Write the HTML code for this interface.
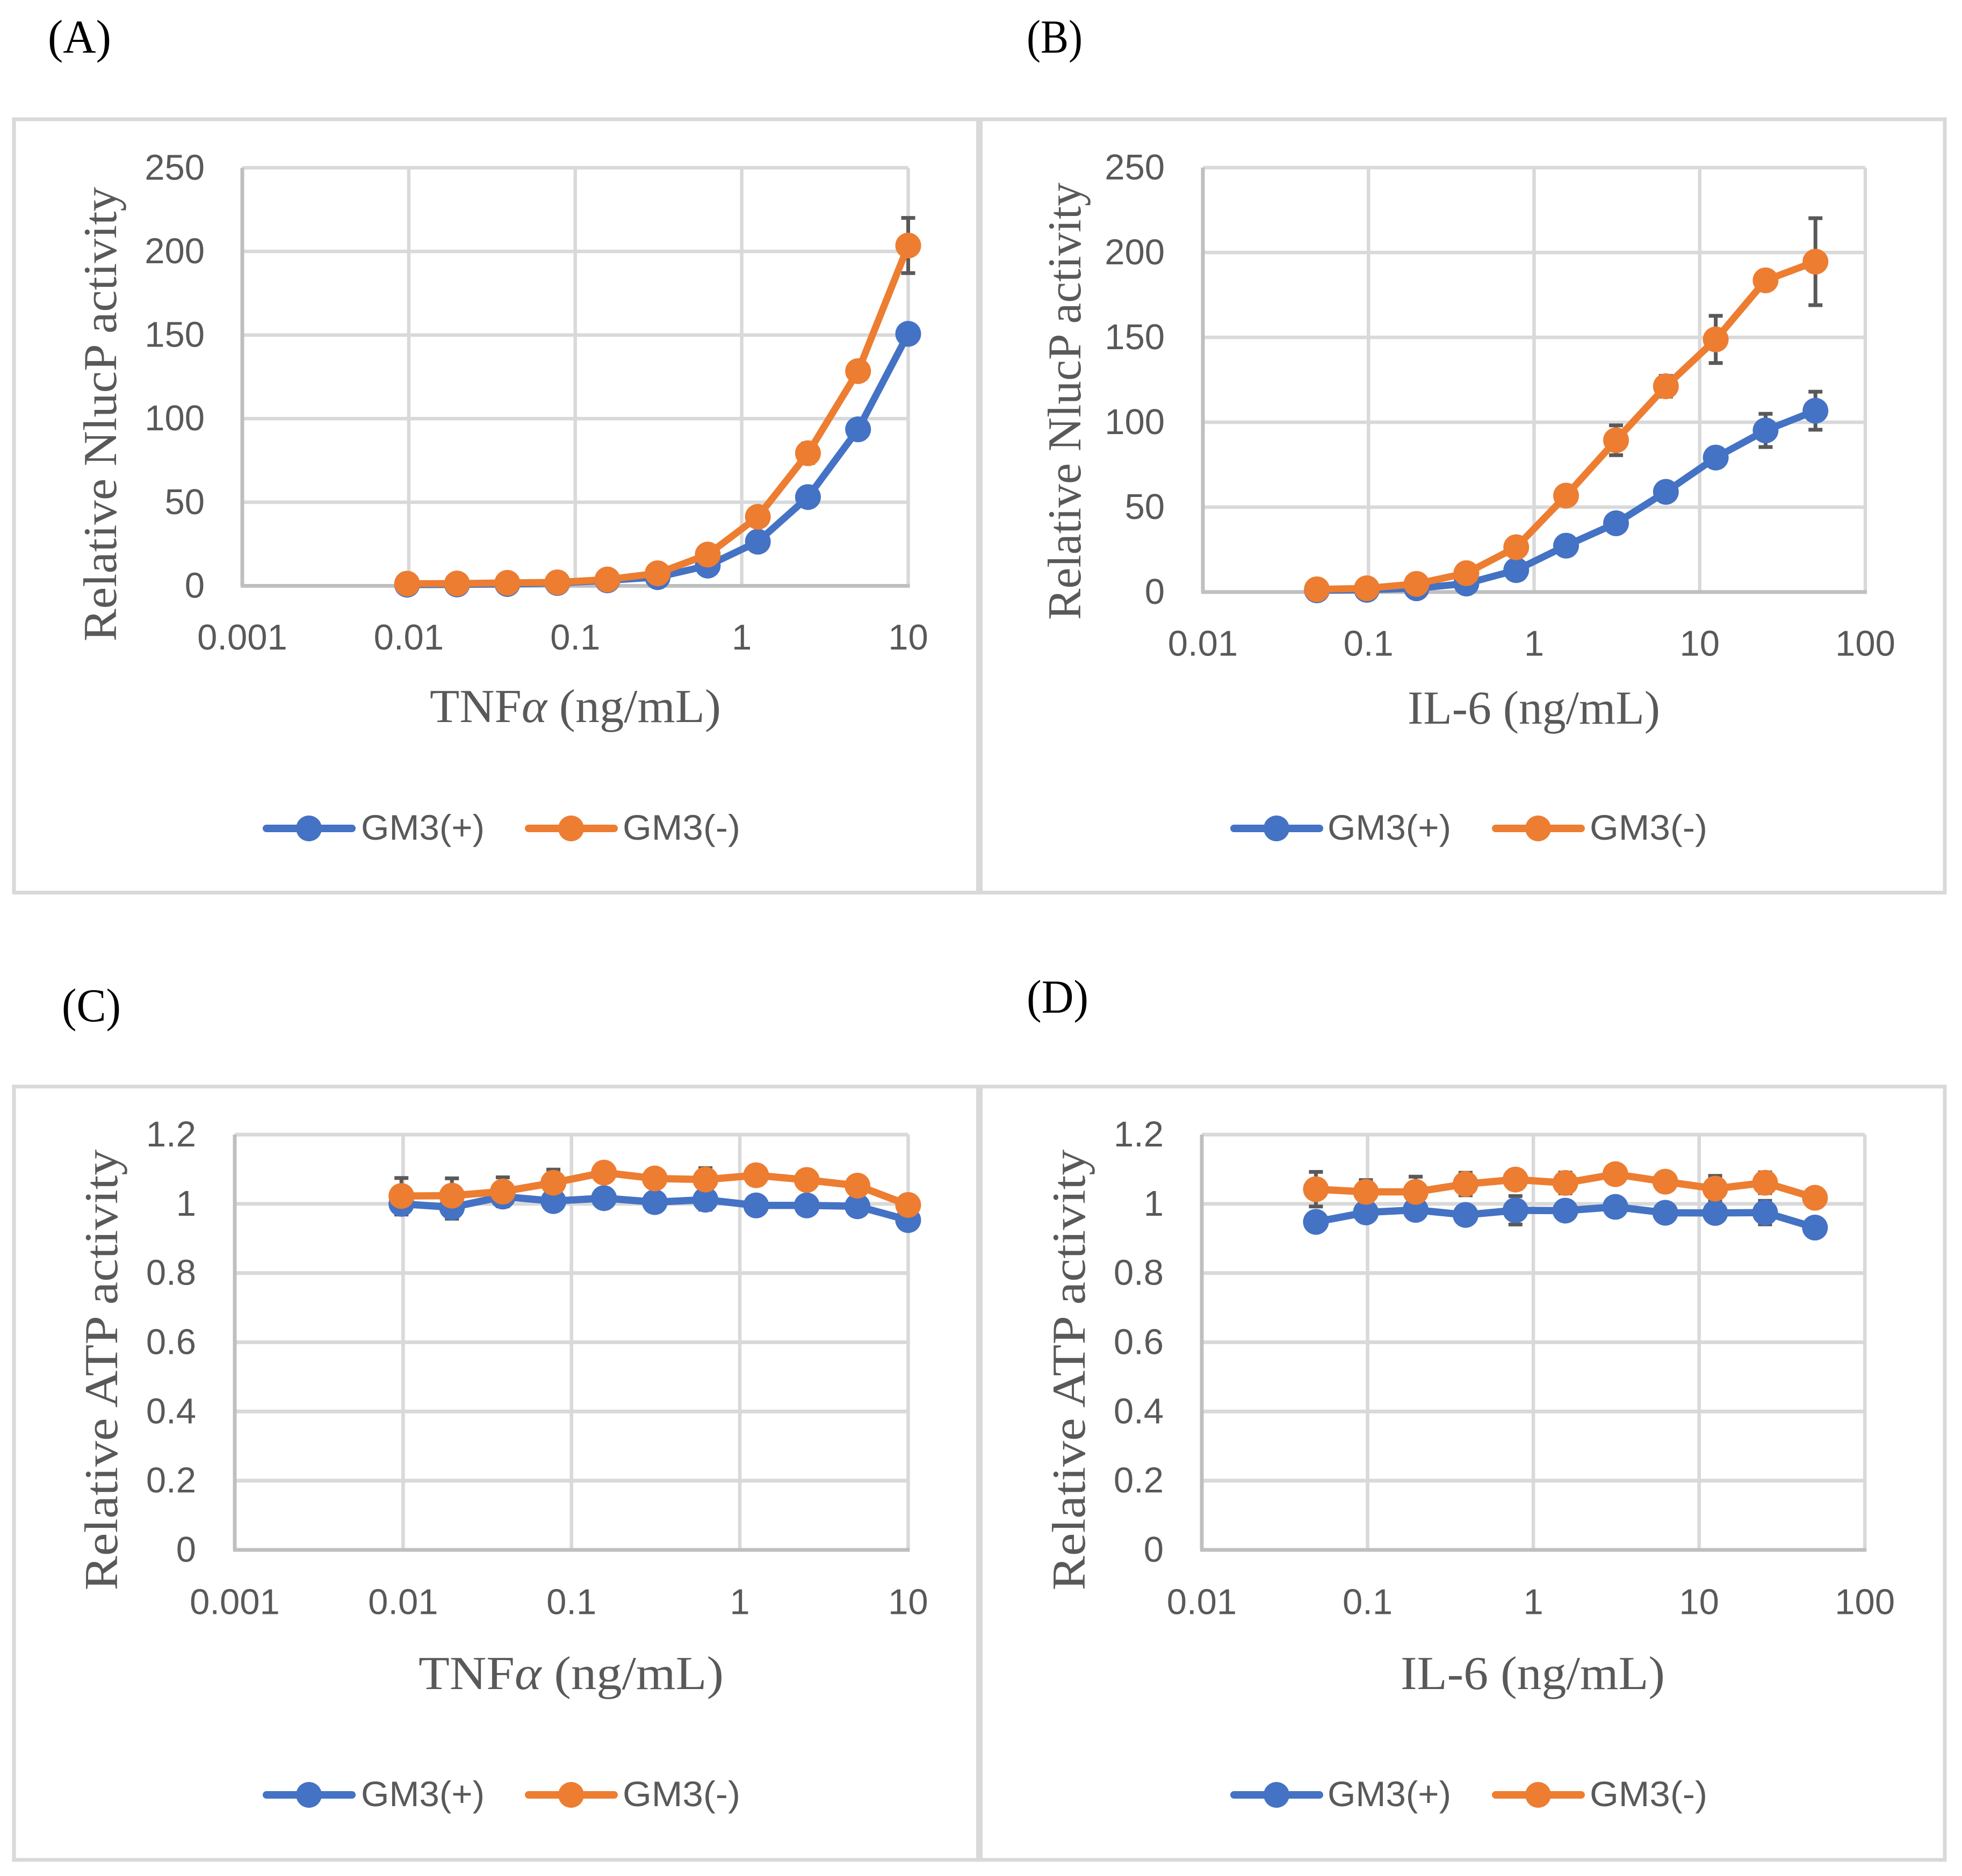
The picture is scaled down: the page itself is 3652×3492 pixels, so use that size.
<!DOCTYPE html>
<html lang="en">
<head>
<meta charset="utf-8">
<title>GM3 NlucP and ATP activity charts</title>
<style>
  html, body { margin: 0; padding: 0; background: #fff; }
  svg { display: block; }
  .tick { font-family: "Liberation Sans", sans-serif; font-size: 67px; fill: #595959; }
  .legend { font-family: "Liberation Sans", sans-serif; font-size: 66px; fill: #595959; }
  .title { font-family: "Liberation Serif", serif; font-size: 88px; fill: #595959; }
  .panel { font-family: "Liberation Serif", serif; font-size: 88px; fill: #000; }
</style>
</head>
<body>
<svg id="fig" xmlns="http://www.w3.org/2000/svg" width="3652" height="3492" viewBox="0 0 3652 3492">
  <rect x="0" y="0" width="3652" height="3492" fill="#ffffff"/>
</svg>
<script>
// ---- data ----
const concTNF = [0.00977, 0.0195, 0.0391, 0.0781, 0.156, 0.3125, 0.625, 1.25, 2.5, 5, 10];
const concIL6 = [0.0488, 0.0977, 0.195, 0.39, 0.78, 1.56, 3.125, 6.25, 12.5, 25, 50];

const nlucTnfPlus = [0.7, 0.8, 1.1, 1.7, 3.3, 5.2, 12.1, 26.4, 53.1, 93.6, 150.7];
const nlucTnfMinus = [1.3, 1.4, 1.8, 2.1, 3.8, 7.5, 18.7, 41.3, 79.3, 128.4, 203.5];
const nlucTnfPlusErr = [0.2, 0.2, 0.2, 0.3, 0.4, 0.6, 1, 2, 3, 5.5, 3];
const nlucTnfMinusErr = [0.2, 0.2, 0.2, 0.3, 0.4, 0.6, 1, 2, 5.8, 3, 16.5];

const nlucIlPlus = [1.0, 1.3, 2.2, 5.0, 12.9, 27.3, 40.5, 59.0, 79.2, 95.2, 106.8];
const nlucIlMinus = [1.6, 2.2, 4.8, 11.1, 26.4, 56.8, 89.4, 121.2, 148.8, 183.6, 194.6];
const nlucIlPlusErr = [0.2, 0.2, 0.3, 0.5, 1, 2, 2, 3, 3, 9.8, 11.2];
const nlucIlMinusErr = [0.2, 0.3, 0.5, 1, 2, 3, 8.8, 6.1, 13.9, 3, 25.6];

const atpTnfPlus = [1.000, 0.990, 1.021, 1.008, 1.0165, 1.005, 1.012, 0.9954, 0.9954, 0.993, 0.953];
const atpTnfMinus = [1.0227, 1.0237, 1.0356, 1.0609, 1.0903, 1.0733, 1.0702, 1.0826, 1.0691, 1.0526, 0.9969];
const atpTnfPlusErr = [0.031, 0.033, 0.028, 0.01, 0.01, 0.01, 0.029, 0.005, 0.005, 0.005, 0.005];
const atpTnfMinusErr = [0.052, 0.05, 0.041, 0.038, 0.023, 0.026, 0.033, 0.027, 0.01, 0.01, 0.005];

const atpIlPlus = [0.9479, 0.9752, 0.9825, 0.968, 0.9814, 0.9804, 0.9912, 0.9742, 0.9737, 0.9747, 0.9314];
const atpIlMinus = [1.0423, 1.0346, 1.0346, 1.0573, 1.0702, 1.0604, 1.0857, 1.064, 1.0439, 1.0609, 1.0175];
const atpIlPlusErr = [0.005, 0.025, 0.02, 0.01, 0.041, 0.01, 0.005, 0.005, 0.024, 0.034, 0.005];
const atpIlMinusErr = [0.05, 0.034, 0.044, 0.0325, 0.027, 0.03, 0.005, 0.005, 0.037, 0.03, 0.021];

const tnfTicks = [0.001, 0.01, 0.1, 1, 10];
const tnfTickLabels = ["0.001", "0.01", "0.1", "1", "10"];
const ilTicks = [0.01, 0.1, 1, 10, 100];
const ilTickLabels = ["0.01", "0.1", "1", "10", "100"];
const nlucTicks = [0, 50, 100, 150, 200, 250];
const nlucTickLabels = ["0", "50", "100", "150", "200", "250"];
const atpTicks = [0, 0.2, 0.4, 0.6, 0.8, 1, 1.2];
const atpTickLabels = ["0", "0.2", "0.4", "0.6", "0.8", "1", "1.2"];
const seriesNames = ["GM3(+)", "GM3(-)"];

const BLUE = "#4472c4", ORANGE = "#ed7d31", GRID = "#d9d9d9", AXIS = "#bfbfbf", ERR = "#595959";
const NS = "http://www.w3.org/2000/svg";
const fig = document.getElementById("fig");

function mk(parent, tag, attrs) {
  const el = document.createElementNS(NS, tag);
  for (const k in attrs) el.setAttribute(k, attrs[k]);
  parent.appendChild(el);
  return el;
}

function drawPanel(c) {
  const g = mk(fig, "g", {});
  
  

  const frame = mk(g, "rect", { x: c.fx, y: c.fy, width: c.fw, height: c.fh, fill: "none", stroke: GRID, "stroke-width": 7 });
  
  

  const lab = mk(g, "text", { x: c.labX, y: c.labY, class: "panel", textLength: c.labW, lengthAdjust: "spacingAndGlyphs" });
  lab.textContent = c.label;
  
  

  const xMin = Math.log10(c.xTicks[0]);
  const xMax = Math.log10(c.xTicks[c.xTicks.length - 1]);
  const yMax = c.yTicks[c.yTicks.length - 1];
  const sx = v => c.left + (Math.log10(v) - xMin) / (xMax - xMin) * (c.right - c.left);
  const sy = v => c.bottom - v / yMax * (c.bottom - c.top);

  c.yTicks.forEach((t, i) => {
    const y = sy(t);
    if (t !== 0) {
      const gl = mk(g, "line", { x1: c.left, x2: c.right, y1: y, y2: y, stroke: GRID, "stroke-width": c.gridW });
      
      
    }
    const tl = mk(g, "text", { x: c.yLabelX, y: y + 22, "text-anchor": "end", class: "tick" });
    tl.textContent = c.yTickLabels[i];
    
    
  });

  c.xTicks.forEach((t, i) => {
    const x = sx(t);
    const isFirst = i === 0;
    const gl = mk(g, "line", { x1: x, x2: x, y1: c.top, y2: c.bottom, stroke: isFirst ? AXIS : GRID, "stroke-width": isFirst ? 7 : 6.5 });
    
    
    const tl = mk(g, "text", { x: x, y: c.bottom + c.xLabelDy, "text-anchor": "middle", class: "tick" });
    tl.textContent = c.xTickLabels[i];
    
    
  });

  const ax = mk(g, "line", { x1: c.left - 3, x2: c.right + 3, y1: c.bottom, y2: c.bottom, stroke: AXIS, "stroke-width": 7 });
  
  

  const errs = [[c.plus, c.plusErr, 'gm3-plus'], [c.minus, c.minusErr, 'gm3-minus']];
  errs.forEach(([vals, es, nm]) => {
    vals.forEach((v, i) => {
      const x = sx(c.conc[i]);
      const y1 = sy(v + es[i]);
      const y2 = sy(v - es[i]);
      const path = mk(g, "path", {
        d: "M" + x + " " + y1 + "V" + y2 + "M" + (x - 13) + " " + y1 + "H" + (x + 13) + "M" + (x - 13) + " " + y2 + "H" + (x + 13),
        stroke: ERR, "stroke-width": 7, fill: "none"
      });
      
      
    });
  });

  const series = [[c.plus, BLUE, 'gm3-plus'], [c.minus, ORANGE, 'gm3-minus']];
  series.forEach(([vals, col, nm]) => {
    const pl = mk(g, "polyline", {
      points: vals.map((v, i) => sx(c.conc[i]) + "," + sy(v)).join(" "),
      fill: "none", stroke: col, "stroke-width": c.lineW, "stroke-linejoin": "round", "stroke-linecap": "round"
    });
    
    
    vals.forEach((v, i) => {
      const pt = mk(g, "circle", { cx: sx(c.conc[i]), cy: sy(v), r: 24, fill: col });
      
      
    });
  });

  const xt = mk(g, "text", { x: c.xTitleX, y: c.xTitleY, class: "title", "text-anchor": "middle", textLength: c.xTitleW, lengthAdjust: "spacingAndGlyphs" });
  if (c.xTitleItalic) {
    xt.appendChild(document.createTextNode("TNF"));
    const it = mk(xt, "tspan", { "font-style": "italic" });
    it.textContent = "α";
    xt.appendChild(document.createTextNode(" (ng/mL)"));
  } else {
    xt.textContent = c.xTitle;
  }
  
  

  const yt = mk(g, "text", {
    x: 0, y: 0, class: "title", "text-anchor": "middle",
    transform: "translate(" + c.yTitleX + " " + c.yTitleY + ") rotate(-90)",
    textLength: c.yTitleW, lengthAdjust: "spacingAndGlyphs"
  });
  yt.textContent = c.yTitle;
  
  

  const legs = [[c.legA, BLUE, seriesNames[0], c.legTxtA, 230], [c.legB, ORANGE, seriesNames[1], c.legTxtB, 219]];
  legs.forEach(([lx, col, txt, tx, tw]) => {
    const lg = mk(g, "g", {});
    
    
    mk(lg, "line", { x1: lx + 7, x2: lx + 166, y1: c.legY, y2: c.legY, stroke: col, "stroke-width": 14, "stroke-linecap": "round" });
    mk(lg, "circle", { cx: lx + 86, cy: c.legY, r: 24, fill: col });
    const t = mk(lg, "text", { x: tx, y: c.legY + 21, class: "legend", textLength: tw, lengthAdjust: "spacingAndGlyphs" });
    t.textContent = txt;
  });
}

drawPanel({
  key: "a", label: "(A)", labX: 89, labY: 98, labW: 118,
  fx: 26, fy: 222, fw: 1794.5, fh: 1439.5,
  left: 451, right: 1690.5, top: 312.3, bottom: 1090.5, gridW: 6.5, lineW: 13,
  xTicks: tnfTicks, xTickLabels: tnfTickLabels, yTicks: nlucTicks, yTickLabels: nlucTickLabels,
  yLabelX: 381, xLabelDy: 118.5,
  conc: concTNF, plus: nlucTnfPlus, minus: nlucTnfMinus, plusErr: nlucTnfPlusErr, minusErr: nlucTnfMinusErr,
  xTitleItalic: true, xTitleX: 1071, xTitleY: 1344, xTitleW: 542,
  yTitle: "Relative NlucP activity", yTitleX: 216, yTitleY: 771, yTitleW: 846,
  legA: 489, legTxtA: 672, legB: 977, legTxtB: 1159, legY: 1542
});
drawPanel({
  key: "b", label: "(B)", labX: 1911, labY: 98, labW: 104,
  fx: 1825.5, fy: 222, fw: 1794.5, fh: 1439.5,
  left: 2239, right: 3472, top: 312, bottom: 1102, gridW: 6.5, lineW: 13,
  xTicks: ilTicks, xTickLabels: ilTickLabels, yTicks: nlucTicks, yTickLabels: nlucTickLabels,
  yLabelX: 2168, xLabelDy: 118.5,
  conc: concIL6, plus: nlucIlPlus, minus: nlucIlMinus, plusErr: nlucIlPlusErr, minusErr: nlucIlMinusErr,
  xTitle: "IL-6 (ng/mL)", xTitleX: 2855, xTitleY: 1347, xTitleW: 470,
  yTitle: "Relative NlucP activity", yTitleX: 2011, yTitleY: 747, yTitleW: 814,
  legA: 2290, legTxtA: 2471, legB: 2777, legTxtB: 2959, legY: 1542
});
drawPanel({
  key: "c", label: "(C)", labX: 115, labY: 1901, labW: 110,
  fx: 26, fy: 2022.5, fw: 1794.5, fh: 1439.5,
  left: 437, right: 1690.4, top: 2112, bottom: 2885, gridW: 7, lineW: 13.5,
  xTicks: tnfTicks, xTickLabels: tnfTickLabels, yTicks: atpTicks, yTickLabels: atpTickLabels,
  yLabelX: 365, xLabelDy: 119.5,
  conc: concTNF, plus: atpTnfPlus, minus: atpTnfMinus, plusErr: atpTnfPlusErr, minusErr: atpTnfMinusErr,
  xTitleItalic: true, xTitleX: 1063, xTitleY: 3144, xTitleW: 568,
  yTitle: "Relative ATP activity", yTitleX: 218, yTitleY: 2550, yTitleW: 821,
  legA: 489, legTxtA: 672, legB: 977, legTxtB: 1159, legY: 3341
});
drawPanel({
  key: "d", label: "(D)", labX: 1911, labY: 1885, labW: 115,
  fx: 1825.5, fy: 2022.5, fw: 1794.5, fh: 1439.5,
  left: 2237, right: 3471.2, top: 2112, bottom: 2885, gridW: 7, lineW: 13.5,
  xTicks: ilTicks, xTickLabels: ilTickLabels, yTicks: atpTicks, yTickLabels: atpTickLabels,
  yLabelX: 2166, xLabelDy: 119.5,
  conc: concIL6, plus: atpIlPlus, minus: atpIlMinus, plusErr: atpIlPlusErr, minusErr: atpIlMinusErr,
  xTitle: "IL-6 (ng/mL)", xTitleX: 2853, xTitleY: 3144, xTitleW: 492,
  yTitle: "Relative ATP activity", yTitleX: 2019, yTitleY: 2550, yTitleW: 821,
  legA: 2290, legTxtA: 2471, legB: 2777, legTxtB: 2959, legY: 3341
});
</script>
</body>
</html>
